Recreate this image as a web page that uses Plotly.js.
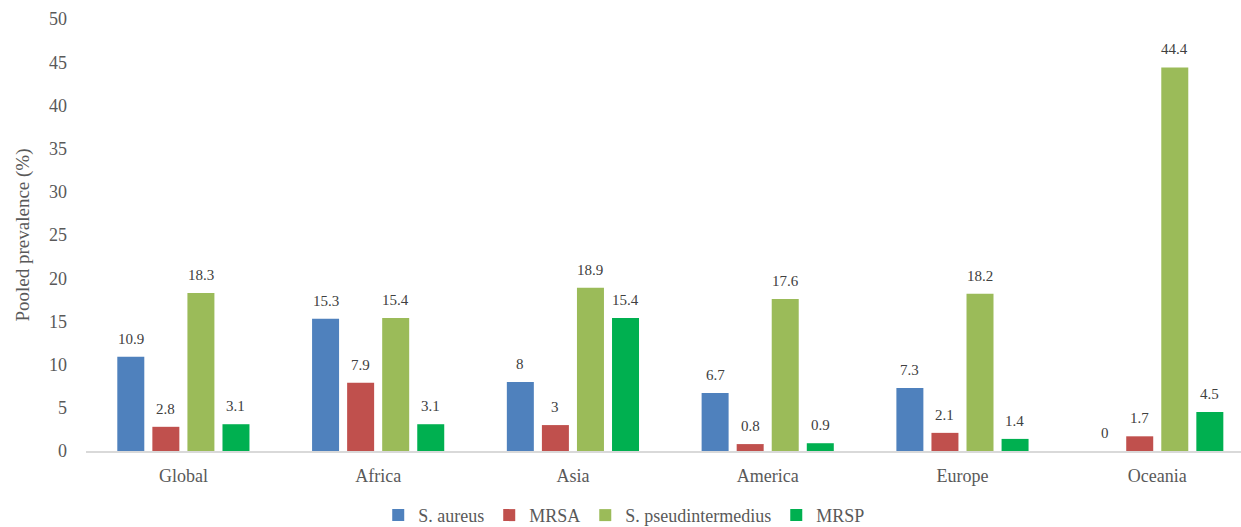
<!DOCTYPE html>
<html><head><meta charset="utf-8">
<script src="https://cdn.plot.ly/plotly-3.0.1.min.js"></script>
<style>html,body{margin:0;padding:0;background:#fff}#c{width:1241px;height:527px}</style>
</head><body><div id="c"></div>
<script>
const regions = ["Global","Africa","Asia","America","Europe","Oceania"];
const sAureus = [10.9,15.3,8,6.7,7.3,0];
const mrsa = [2.8,7.9,3,0.8,2.1,1.7];
const sPseud = [18.3,15.4,18.9,17.6,18.2,44.4];
const mrsp = [3.1,3.1,15.4,0.9,1.4,4.5];
const seriesNames = ["S. aureus","MRSA","S. pseudintermedius","MRSP"];
const seriesData = [sAureus,mrsa,sPseud,mrsp];
const colors = ["#4F81BD","#C0504D","#9BBB59","#00B050"];
const F = "Liberation Serif, DejaVu Serif, serif";
const traces = seriesData.map((d,i)=>({
  type:"bar", name:seriesNames[i], x:regions, y:d,
  marker:{color:colors[i]}, hoverinfo:"none"
}));
const offsets = [-52.5,-17.5,17.5,52.5];
const annotations = [];
seriesData.forEach((d,i)=>d.forEach((v,j)=>annotations.push({
  x:regions[j], y:v, xref:"x", yref:"y", text:String(v), showarrow:false,
  xshift:offsets[i], yshift:8, yanchor:"bottom",
  font:{family:F,size:15,color:"#404040"}
})));
Plotly.newPlot("c",traces,{
  width:1241,height:527,
  margin:{l:86,r:0,t:19,b:76},
  paper_bgcolor:"#fff",plot_bgcolor:"#fff",
  bargap:0.28,bargroupgap:0.23,
  font:{family:F,color:"#595959"},
  annotations:annotations,
  xaxis:{range:[-0.5,5.43],showgrid:false,showline:true,linecolor:"#D9D9D9",linewidth:1.5,ticks:"",ticklabelstandoff:8,tickfont:{size:18,family:F,color:"#595959"}},
  yaxis:{range:[0,50],dtick:5,showgrid:false,zeroline:false,showline:false,ticks:"",ticklabelstandoff:18,tickfont:{size:18,family:F,color:"#595959"},
    title:{text:"Pooled prevalence (%)",font:{size:19,family:F,color:"#595959"},standoff:14}},
  legend:{orientation:"h",x:0.466,xanchor:"center",yref:"container",y:0.022,yanchor:"middle",font:{size:18,family:F,color:"#595959"},itemwidth:20,traceorder:"normal"},
  showlegend:true
},{displayModeBar:false});
</script></body></html>
